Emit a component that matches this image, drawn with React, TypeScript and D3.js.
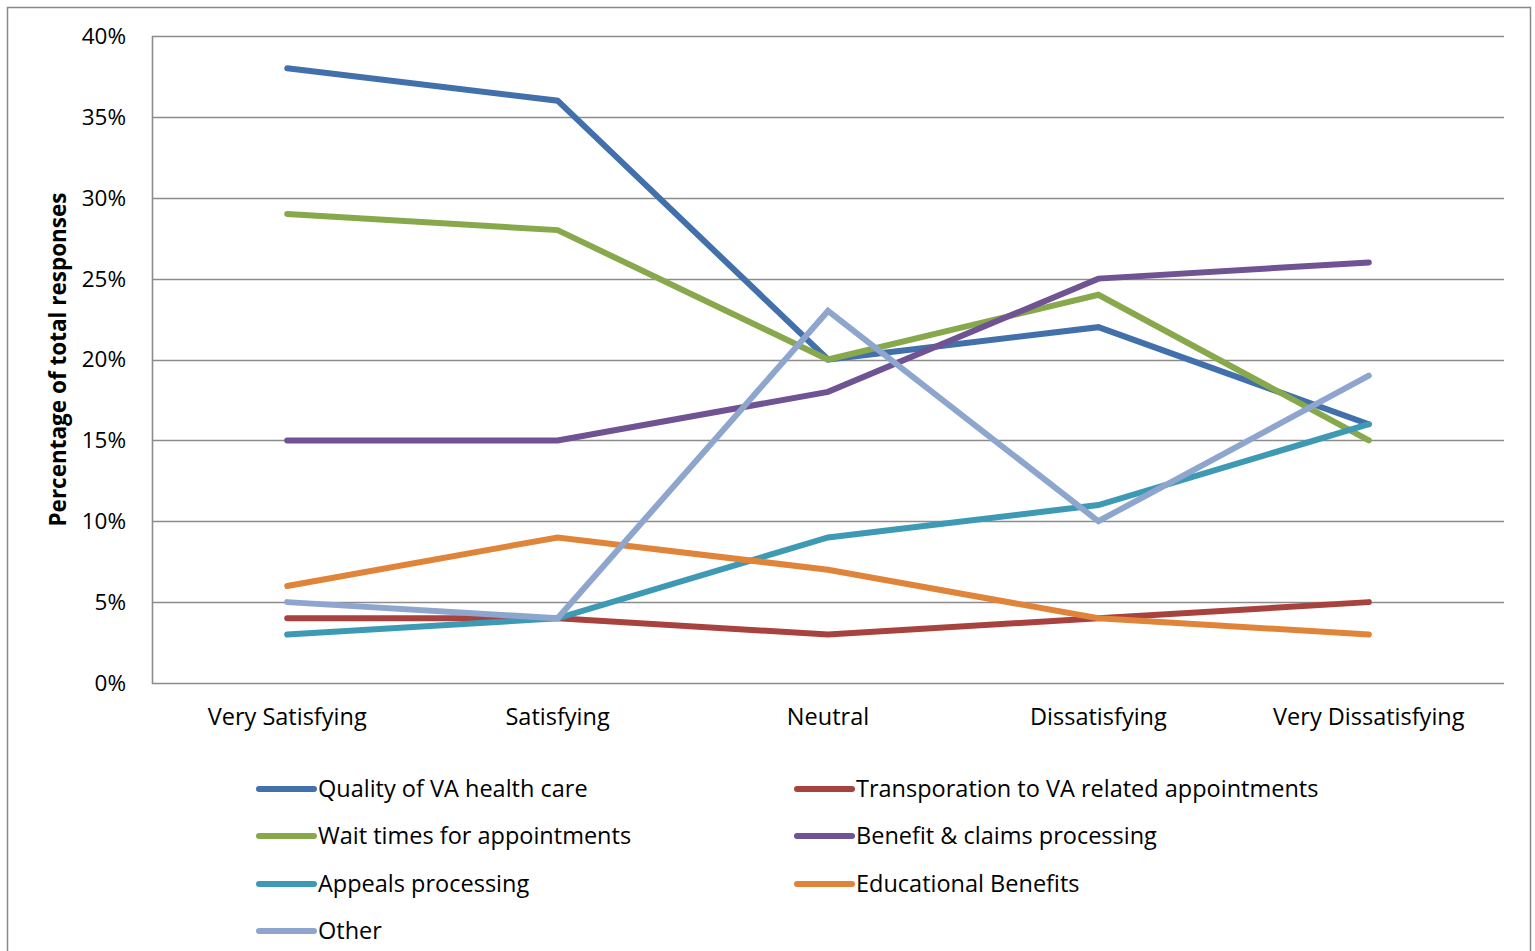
import React from "react";
import * as d3 from "d3";

const categories = ["Very Satisfying", "Satisfying", "Neutral", "Dissatisfying", "Very Dissatisfying"];
const seriesNames = [
  "Quality of VA health care",
  "Transporation to VA related appointments",
  "Wait times for appointments",
  "Benefit & claims processing",
  "Appeals processing",
  "Educational Benefits",
  "Other",
];
const seriesColors = ["#4170AA", "#A8423F", "#88A84C", "#6F5392", "#3E9AB4", "#E0843A", "#8EA6CD"];
const quality = [0.38, 0.36, 0.2, 0.22, 0.16];
const transportation = [0.04, 0.04, 0.03, 0.04, 0.05];
const waitTimes = [0.29, 0.28, 0.2, 0.24, 0.15];
const benefit = [0.15, 0.15, 0.18, 0.25, 0.26];
const appeals = [0.03, 0.04, 0.09, 0.11, 0.16];
const educational = [0.06, 0.09, 0.07, 0.04, 0.03];
const other = [0.05, 0.04, 0.23, 0.1, 0.19];
const yTicks = [0, 0.05, 0.1, 0.15, 0.2, 0.25, 0.3, 0.35, 0.4];
const yTitle = "Percentage of total responses";

const seriesValues = [quality, transportation, waitTimes, benefit, appeals, educational, other];

const FONT = "'Open Sans', sans-serif";
const FS = 23.5;

export default function App() {
  const left = 152, right = 1504, top = 36, bottom = 683;
  const x = d3.scalePoint<string>().domain(categories).range([left, right]).padding(0.5);
  const y = d3.scaleLinear().domain([0, 0.4]).range([bottom, top]);
  const line = d3.line<number>().x((_, i) => x(categories[i]) as number).y((d) => y(d));
  const pct = d3.format(".0%");
  const gridColor = "#8C8C8C";

  const legendRowY = [789, 836, 884, 931];
  const legendColX = [259, 797];

  return (
    <svg width={1535} height={951} style={{ position: "absolute", left: 0, top: 0, background: "#fff" }}>
      <rect x={7.5} y={7.5} width={1523} height={960} fill="#fff" stroke="#898989" strokeWidth={1.5} />
      {yTicks.map((t) => (
        <line key={t} x1={left} x2={right} y1={Math.round(y(t)) + 0.5} y2={Math.round(y(t)) + 0.5} stroke={gridColor} strokeWidth={1.6} />
      ))}
      <line x1={left + 0.5} x2={left + 0.5} y1={top} y2={bottom + 1} stroke={gridColor} strokeWidth={1.6} />
      {yTicks.map((t) => (
        <text key={"l" + t} x={126} y={y(t)} dy="0.35em" textAnchor="end" fontFamily={FONT} fontSize={22.5} fill="#000">
          {pct(t)}
        </text>
      ))}
      {categories.map((c) => (
        <text key={c} x={x(c)} y={717} dy="0.35em" textAnchor="middle" fontFamily={FONT} fontSize={FS} fill="#000">
          {c}
        </text>
      ))}
      <text
        transform={`translate(58,${(top + bottom) / 2}) rotate(-90)`}
        textAnchor="middle"
        dy="0.35em"
        fontFamily={FONT}
        fontWeight="bold"
        fontSize={22.5}
        fill="#000"
      >
        {yTitle}
      </text>
      {seriesValues.map((vals, i) => (
        <path
          key={seriesNames[i]}
          d={line(vals) as string}
          fill="none"
          stroke={seriesColors[i]}
          strokeWidth={6}
          strokeLinecap="round"
          strokeLinejoin="miter"
        />
      ))}
      {seriesNames.map((name, k) => {
        const col = k % 2;
        const row = Math.floor(k / 2);
        const lx = legendColX[col];
        const ly = legendRowY[row];
        return (
          <g key={"lg" + name}>
            <line x1={lx} x2={lx + 55} y1={ly} y2={ly} stroke={seriesColors[k]} strokeWidth={6} strokeLinecap="round" />
            <text x={lx + 59} y={ly} dy="0.35em" fontFamily={FONT} fontSize={FS} fill="#000">
              {name}
            </text>
          </g>
        );
      })}
    </svg>
  );
}
